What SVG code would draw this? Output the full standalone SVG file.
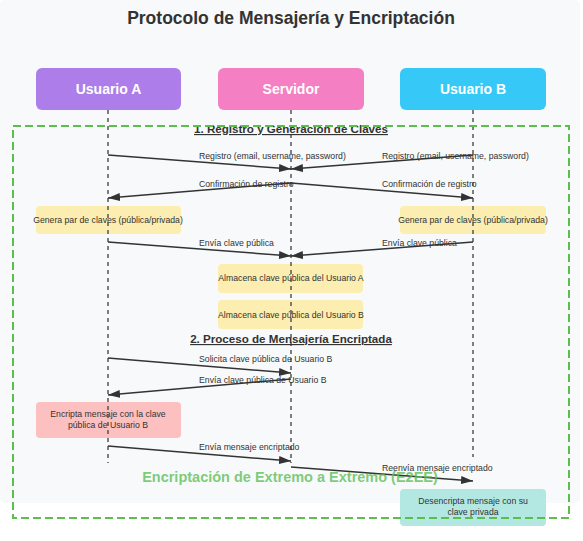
<svg xmlns="http://www.w3.org/2000/svg" width="583" height="541" viewBox="0 0 583 541">
<defs>
<style>
.title{font-family:"Liberation Sans",Arial,sans-serif;font-size:17.5px;font-weight:bold;fill:#333;text-anchor:middle}
.hdr{font-family:"Liberation Sans",Arial,sans-serif;font-size:14px;font-weight:bold;fill:#fff;text-anchor:middle}
.sec{font-family:"Liberation Sans",Arial,sans-serif;font-size:11.6px;font-weight:bold;fill:#333;text-anchor:middle;text-decoration:underline}
.lbl{font-family:"Liberation Sans",Arial,sans-serif;font-size:8.7px;fill:#333;text-anchor:start}
.box{font-family:"Liberation Sans",Arial,sans-serif;font-size:8.7px;fill:#333;text-anchor:middle}
.life{stroke:#555;stroke-width:1.5;stroke-dasharray:4,4;fill:none}
.msg{stroke:#333;stroke-width:1.5;fill:none;marker-end:url(#arr)}
.yel{fill:#fbeeb0}
</style>
<marker id="arr" markerUnits="userSpaceOnUse" markerWidth="12" markerHeight="8" refX="12" refY="4" orient="auto">
<path d="M0,0 L12,4 L0,8 z" fill="#333"/>
</marker>
</defs>
<rect x="0" y="0" width="583" height="541" fill="#ffffff"/>
<rect x="0" y="0" width="580" height="503" rx="5" fill="#f8f9fa"/>
<text class="title" x="291" y="24">Protocolo de Mensajería y Encriptación</text>

<g id="genA"><rect class="yel" x="36" y="206" width="145" height="28" rx="4"/><text class="box" x="108" y="223">Genera par de claves (pública/privada)</text></g>
<g id="genB"><rect class="yel" x="400" y="206" width="146" height="28" rx="4"/><text class="box" x="473" y="223">Genera par de claves (pública/privada)</text></g>
<g id="storeA"><rect class="yel" x="218" y="264" width="145" height="29" rx="4"/><text class="box" x="291" y="281">Almacena clave pública del Usuario A</text></g>
<g id="storeB"><rect class="yel" x="218" y="300" width="145" height="29" rx="4"/><text class="box" x="291" y="318">Almacena clave pública del Usuario B</text></g>
<g id="encrypt"><rect x="36" y="402" width="145" height="36" rx="4" fill="#fcc0c0"/><text class="box" x="108" y="417">Encripta mensaje con la clave</text><text class="box" x="108" y="428">pública de Usuario B</text></g>
<g id="decrypt"><rect x="400" y="489" width="146" height="37" rx="4" fill="#b3e8e2"/><text class="box" x="473" y="504">Desencripta mensaje con su</text><text class="box" x="473" y="515">clave privada</text></g>

<g id="lifelines">
<line class="life" x1="108" y1="110" x2="108" y2="463"/>
<line class="life" x1="291" y1="110" x2="291" y2="463"/>
<line class="life" x1="473" y1="110" x2="473" y2="457"/>
</g>

<g id="connectors">
<line class="msg" x1="108" y1="155" x2="291" y2="169"/>
<text class="lbl" x="199" y="159">Registro (email, username, password)</text>
<line class="msg" x1="473" y1="155" x2="291" y2="169"/>
<text class="lbl" x="382" y="159">Registro (email, username, password)</text>
<line class="msg" x1="291" y1="183" x2="108" y2="198"/>
<text class="lbl" x="199" y="187">Confirmación de registro</text>
<line class="msg" x1="291" y1="183" x2="473" y2="198"/>
<text class="lbl" x="382" y="187">Confirmación de registro</text>
<line class="msg" x1="108" y1="242" x2="291" y2="256"/>
<text class="lbl" x="199" y="246">Envía clave pública</text>
<line class="msg" x1="473" y1="242" x2="291" y2="256"/>
<text class="lbl" x="382" y="246">Envía clave pública</text>
<line class="msg" x1="108" y1="358" x2="291" y2="373"/>
<text class="lbl" x="199" y="362">Solicita clave pública de Usuario B</text>
<line class="msg" x1="291" y1="379" x2="108" y2="395"/>
<text class="lbl" x="199" y="383">Envía clave pública de Usuario B</text>
<line class="msg" x1="108" y1="446" x2="291" y2="461"/>
<text class="lbl" x="199" y="450">Envía mensaje encriptado</text>
<line class="msg" x1="291" y1="467" x2="473" y2="481"/>
<text class="lbl" x="382" y="471">Reenvía mensaje encriptado</text>
</g>

<text class="sec" x="291" y="133">1. Registro y Generación de Claves</text>
<text class="sec" x="291" y="343">2. Proceso de Mensajería Encriptada</text>
<text x="290" y="482" font-family="'Liberation Sans',Arial,sans-serif" font-size="14.5" font-weight="bold" fill="#5cbf57" fill-opacity="0.8" text-anchor="middle">Encriptación de Extremo a Extremo (E2EE)</text>

<rect id="e2ee" x="13" y="126" width="556" height="392" fill="none" stroke="#5cbf4c" stroke-width="2" stroke-dasharray="8,4"/>

<g id="userA"><rect x="36" y="68" width="145" height="42" rx="6" fill="#ad7ee9"/><text class="hdr" x="108.5" y="94">Usuario A</text></g>
<g id="server"><rect x="218" y="68" width="146" height="42" rx="6" fill="#f47fc3"/><text class="hdr" x="291" y="94">Servidor</text></g>
<g id="userB"><rect x="400" y="68" width="146" height="42" rx="6" fill="#36c9f7"/><text class="hdr" x="473" y="94">Usuario B</text></g>
</svg>
